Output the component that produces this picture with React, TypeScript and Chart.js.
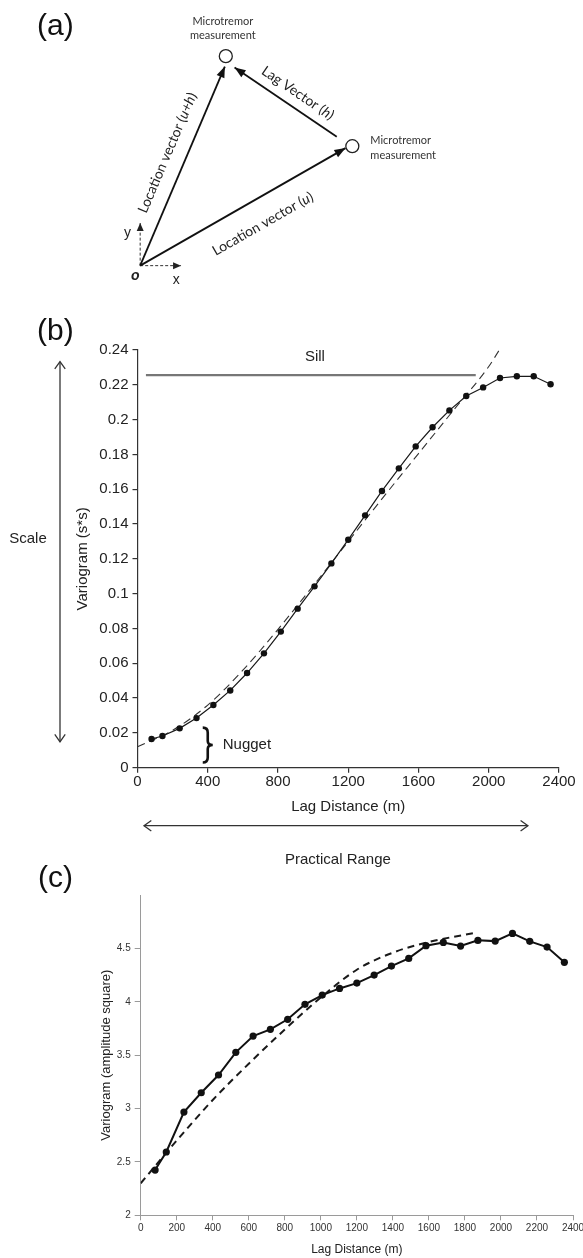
import React, { useEffect, useRef } from "react";
import { Chart, registerables } from "chart.js";

Chart.register(...registerables);

const SANS = "'Liberation Sans', Arial, Helvetica, sans-serif";
const CAL = "Lato, 'Open Sans', sans-serif";
Chart.defaults.font.family = SANS;

// ---------------- Panel (a): diagram (origin o at 0,0) ----------------
const stationPoints = [
  [88, 221],
  [218, 126],
];
const vectorUH = [
  [0, 0],
  [87, 210],
];
const vectorU = [
  [0, 0],
  [211, 124],
];
const vectorH = [
  [202, 136],
  [97, 209],
];
const axisY = [
  [0, 0],
  [0, 45],
];
const axisX = [
  [0, 0],
  [42, 0],
];

// ---------------- Panel (b) ----------------
const lagDistance = [80, 142, 240, 336, 432, 528, 624, 720, 816, 912, 1008, 1104, 1200, 1296, 1392, 1488, 1584, 1680, 1776, 1872, 1968, 2064, 2160, 2256, 2352];
const variogramB = [0.0165, 0.0182, 0.0226, 0.0285, 0.036, 0.0444, 0.0544, 0.0657, 0.0782, 0.0914, 0.1042, 0.1174, 0.131, 0.145, 0.159, 0.172, 0.1846, 0.1956, 0.2053, 0.2136, 0.2185, 0.2239, 0.2249, 0.2249, 0.2203];
const modelDistanceB = [0, 200, 400, 600, 800, 1000, 1200, 1400, 1600, 1800, 2000, 2060];
const modelVariogramB = [0.012, 0.0215, 0.036, 0.056, 0.0795, 0.1045, 0.13, 0.1555, 0.1805, 0.2055, 0.2305, 0.24];
const sillLevel = 0.2256;
const sillExtent = [48, 1926];
const sillLabelAt = [1010, 0.2362];
const nuggetAt = 400;
const nuggetSpan = [0.003, 0.023];
const scaleSpan = [0.0149, 0.2333];
const practicalRange = [37, 2223];
const xTicksB = [0, 400, 800, 1200, 1600, 2000, 2400];
const yTicksB = [0, 0.02, 0.04, 0.06, 0.08, 0.1, 0.12, 0.14, 0.16, 0.18, 0.2, 0.22, 0.24];

// ---------------- Panel (c) ----------------
const variogramC = [2.424, 2.593, 2.967, 3.148, 3.314, 3.526, 3.679, 3.742, 3.836, 3.976, 4.063, 4.125, 4.175, 4.25, 4.334, 4.406, 4.525, 4.556, 4.522, 4.575, 4.568, 4.64, 4.566, 4.512, 4.369];
const modelDistanceC = [0, 200, 400, 600, 800, 1000, 1200, 1400, 1600, 1870];
const modelVariogramC = [2.3, 2.7, 3.08, 3.42, 3.74, 4.04, 4.3, 4.46, 4.56, 4.65];
const xTicksC = [0, 200, 400, 600, 800, 1000, 1200, 1400, 1600, 1800, 2000, 2200, 2400];
const yTicksC = [2, 2.5, 3, 3.5, 4, 4.5];

const toXY = (xs: number[], ys: number[]) => xs.map((x, i) => ({ x, y: ys[i] }));
const pairs = (arr: number[][]) => arr.map(([x, y]) => ({ x, y }));

function filledHead(ctx: CanvasRenderingContext2D, x0: number, y0: number, x1: number, y1: number, len: number, half: number) {
  const a = Math.atan2(y1 - y0, x1 - x0);
  const bx = x1 - len * Math.cos(a);
  const by = y1 - len * Math.sin(a);
  ctx.beginPath();
  ctx.moveTo(x1, y1);
  ctx.lineTo(bx + half * Math.sin(a), by - half * Math.cos(a));
  ctx.lineTo(bx - half * Math.sin(a), by + half * Math.cos(a));
  ctx.closePath();
  ctx.fill();
}

function openHead(ctx: CanvasRenderingContext2D, x: number, y: number, angle: number, len: number) {
  const spread = 0.62;
  ctx.beginPath();
  ctx.moveTo(x - len * Math.cos(angle - spread), y - len * Math.sin(angle - spread));
  ctx.lineTo(x, y);
  ctx.lineTo(x - len * Math.cos(angle + spread), y - len * Math.sin(angle + spread));
  ctx.stroke();
}

function drawRich(ctx: CanvasRenderingContext2D, parts: { t: string; i?: boolean }[], cx: number, cy: number, angle: number, size: number) {
  ctx.save();
  ctx.translate(cx, cy);
  ctx.rotate(angle);
  const fonts = parts.map((p) => `${p.i ? "italic " : ""}${size}px ${CAL}`);
  let total = 0;
  const widths = parts.map((p, k) => {
    ctx.font = fonts[k];
    const w = ctx.measureText(p.t).width;
    total += w;
    return w;
  });
  let x = -total / 2;
  ctx.textAlign = "left";
  ctx.textBaseline = "middle";
  parts.forEach((p, k) => {
    ctx.font = fonts[k];
    ctx.fillText(p.t, x, 0);
    x += widths[k];
  });
  ctx.restore();
}

const diagramPlugin = {
  id: "diagram",
  afterDatasetsDraw(chart: any) {
    const ctx: CanvasRenderingContext2D = chart.ctx;
    const xs = chart.scales.x;
    const ys = chart.scales.y;
    const P = (x: number, y: number) => [xs.getPixelForValue(x), ys.getPixelForValue(y)];
    ctx.save();
    ctx.fillStyle = "#111";
    // arrow heads
    [1, 2, 3].forEach((i) => {
      const pts = chart.getDatasetMeta(i).data;
      const a = pts[0], b = pts[pts.length - 1];
      filledHead(ctx, a.x, a.y, b.x, b.y, 11, 4.2);
    });
    ctx.fillStyle = "#222";
    [4, 5].forEach((i) => {
      const pts = chart.getDatasetMeta(i).data;
      const a = pts[0], b = pts[pts.length - 1];
      filledHead(ctx, a.x, a.y, b.x, b.y, 8, 3.5);
    });
    // panel letter
    ctx.fillStyle = "#111";
    ctx.font = `30px ${SANS}`;
    ctx.textAlign = "left";
    ctx.textBaseline = "alphabetic";
    ctx.fillText("(a)", 37, 35);
    // station labels
    ctx.fillStyle = "#333";
    ctx.font = `11px ${CAL}`;
    ctx.textBaseline = "middle";
    ctx.textAlign = "center";
    const [t1x, t1y] = P(stationPoints[0][0], stationPoints[0][1]);
    ctx.fillText("Microtremor", t1x - 3, t1y - 35);
    ctx.fillText("measurement", t1x - 3, t1y - 21);
    const [t2x, t2y] = P(stationPoints[1][0], stationPoints[1][1]);
    ctx.textAlign = "left";
    ctx.fillText("Microtremor", t2x + 18, t2y - 6);
    ctx.fillText("measurement", t2x + 18, t2y + 9);
    // axis letters
    ctx.fillStyle = "#222";
    ctx.font = `14px ${SANS}`;
    ctx.textAlign = "center";
    const [yx, yy] = P(-13, 34);
    ctx.fillText("y", yx, yy);
    const [xx, xy] = P(37, -15);
    ctx.fillText("x", xx, xy);
    ctx.font = `italic bold 14px ${SANS}`;
    const [ox, oy] = P(-5, -11);
    ctx.fillText("o", ox, oy);
    // vector labels
    ctx.fillStyle = "#222";
    const ang = (v: number[][]) => {
      const [ax, ay] = P(v[0][0], v[0][1]);
      const [bx, by] = P(v[1][0], v[1][1]);
      return Math.atan2(by - ay, bx - ax);
    };
    const [l1x, l1y] = P(28, 119);
    drawRich(ctx, [{ t: "Location vector (" }, { t: "u+h", i: true }, { t: ")" }], l1x, l1y, ang(vectorUH), 14);
    const [l2x, l2y] = P(126, 44);
    drawRich(ctx, [{ t: "Location vector (" }, { t: "u", i: true }, { t: ")" }], l2x, l2y, ang(vectorU), 14);
    const [l3x, l3y] = P(162, 182);
    drawRich(ctx, [{ t: "Lag Vector (" }, { t: "h", i: true }, { t: ")" }], l3x, l3y, ang(vectorH) + Math.PI, 14);
    ctx.restore();
  },
};

const panelBPlugin = {
  id: "panelB",
  afterDraw(chart: any) {
    const ctx: CanvasRenderingContext2D = chart.ctx;
    const xs = chart.scales.x;
    const ys = chart.scales.y;
    ctx.save();
    ctx.fillStyle = "#111";
    ctx.font = `30px ${SANS}`;
    ctx.textAlign = "left";
    ctx.textBaseline = "alphabetic";
    ctx.fillText("(b)", 37, 50);

    ctx.font = `15px ${SANS}`;
    ctx.fillStyle = "#222";
    ctx.textAlign = "center";
    ctx.textBaseline = "middle";
    ctx.fillText("Sill", xs.getPixelForValue(sillLabelAt[0]), ys.getPixelForValue(sillLabelAt[1]));

    // Scale arrow
    ctx.strokeStyle = "#333";
    ctx.lineWidth = 1.3;
    const sx = 60;
    const sTop = ys.getPixelForValue(scaleSpan[1]);
    const sBot = ys.getPixelForValue(scaleSpan[0]);
    ctx.beginPath();
    ctx.moveTo(sx, sTop);
    ctx.lineTo(sx, sBot);
    ctx.stroke();
    openHead(ctx, sx, sTop, -Math.PI / 2, 9);
    openHead(ctx, sx, sBot, Math.PI / 2, 9);
    ctx.fillText("Scale", 28, 249);

    // Nugget brace
    const bx = xs.getPixelForValue(nuggetAt);
    const b1 = ys.getPixelForValue(nuggetSpan[1]);
    const b2 = ys.getPixelForValue(nuggetSpan[0]);
    const m = (b1 + b2) / 2;
    const w = 5;
    ctx.strokeStyle = "#111";
    ctx.lineWidth = 2.6;
    ctx.beginPath();
    ctx.moveTo(bx - w, b1);
    ctx.quadraticCurveTo(bx, b1, bx, b1 + 5);
    ctx.lineTo(bx, m - 4);
    ctx.quadraticCurveTo(bx, m, bx + w, m);
    ctx.quadraticCurveTo(bx, m, bx, m + 4);
    ctx.lineTo(bx, b2 - 5);
    ctx.quadraticCurveTo(bx, b2, bx - w, b2);
    ctx.stroke();
    ctx.textAlign = "left";
    ctx.fillText("Nugget", bx + 15, m);

    // Practical range arrow
    const ry = 535.7;
    const r1 = xs.getPixelForValue(practicalRange[0]);
    const r2 = xs.getPixelForValue(practicalRange[1]);
    ctx.strokeStyle = "#333";
    ctx.lineWidth = 1.3;
    ctx.beginPath();
    ctx.moveTo(r1, ry);
    ctx.lineTo(r2, ry);
    ctx.stroke();
    openHead(ctx, r1, ry, Math.PI, 9);
    openHead(ctx, r2, ry, 0, 9);
    ctx.textAlign = "center";
    ctx.fillText("Practical Range", (r1 + r2) / 2 + 2, 570);
    ctx.restore();
  },
};

const panelCPlugin = {
  id: "panelC",
  afterDraw(chart: any) {
    const ctx: CanvasRenderingContext2D = chart.ctx;
    ctx.save();
    ctx.fillStyle = "#111";
    ctx.font = `30px ${SANS}`;
    ctx.textAlign = "left";
    ctx.textBaseline = "alphabetic";
    ctx.fillText("(c)", 38, 32);
    ctx.restore();
  },
};

const fmt2 = (v: any) => String(Number(Number(v).toFixed(2)));

function buildA(canvas: HTMLCanvasElement) {
  const seg = (pts: number[][], color: string, width: number, dash: number[] = []) => ({
    data: pairs(pts),
    showLine: true,
    borderColor: color,
    borderWidth: width,
    borderDash: dash,
    pointRadius: 0,
    fill: false,
  });
  return new Chart(canvas, {
    type: "scatter",
    data: {
      datasets: [
        {
          data: pairs(stationPoints),
          pointRadius: 6.5,
          pointBackgroundColor: "#fff",
          pointBorderColor: "#222",
          pointBorderWidth: 1.3,
          showLine: false,
        },
        seg(vectorUH, "#111", 1.8),
        seg(vectorU, "#111", 1.8),
        seg(vectorH, "#111", 1.8),
        seg(axisY, "#333", 1, [3, 2]),
        seg(axisX, "#333", 1, [3, 2]),
      ] as any,
    },
    options: {
      responsive: false,
      animation: false,
      devicePixelRatio: 1,
      events: [],
      layout: { padding: 0 },
      plugins: { legend: { display: false }, tooltip: { enabled: false } },
      scales: {
        x: { type: "linear", display: false, min: -136, max: 447 },
        y: { type: "linear", display: false, min: -28, max: 272 },
      },
    } as any,
    plugins: [diagramPlugin],
  });
}

function buildB(canvas: HTMLCanvasElement) {
  return new Chart(canvas, {
    type: "scatter",
    data: {
      datasets: [
        {
          data: toXY(lagDistance, variogramB),
          showLine: true,
          borderColor: "#1a1a1a",
          borderWidth: 1.2,
          pointRadius: 3.2,
          pointBackgroundColor: "#111",
          pointBorderColor: "#111",
          pointBorderWidth: 0,
        },
        {
          data: toXY(modelDistanceB, modelVariogramB),
          showLine: true,
          borderColor: "#333",
          borderWidth: 1.1,
          borderDash: [8, 5],
          cubicInterpolationMode: "monotone",
          pointRadius: 0,
        },
        {
          data: sillExtent.map((x) => ({ x, y: sillLevel })),
          showLine: true,
          borderColor: "#777",
          borderWidth: 2.2,
          pointRadius: 0,
        },
      ] as any,
    },
    options: {
      responsive: false,
      animation: false,
      devicePixelRatio: 1,
      events: [],
      layout: { padding: { left: 74, right: 24, top: 60, bottom: 0 } },
      plugins: { legend: { display: false }, tooltip: { enabled: false } },
      scales: {
        x: {
          type: "linear",
          min: 0,
          max: 2400,
          afterBuildTicks: (s: any) => {
            s.ticks = xTicksB.map((value) => ({ value }));
          },
          afterFit: (s: any) => {
            s.height = 112.3;
            s.paddingLeft = 0;
            s.paddingRight = 0;
          },
          grid: { display: true, drawOnChartArea: false, drawTicks: true, tickLength: 5, color: "#333", lineWidth: 1.2 },
          border: { display: true, color: "#333", width: 1.2 },
          ticks: { font: { size: 15 }, color: "#222", padding: 0, maxRotation: 0, callback: (v: any) => String(v) },
          title: { display: true, text: "Lag Distance (m)", font: { size: 15 }, color: "#222", padding: { top: 0, bottom: 64 } },
        },
        y: {
          type: "linear",
          min: 0,
          max: 0.24,
          afterBuildTicks: (s: any) => {
            s.ticks = yTicksB.map((value) => ({ value }));
          },
          afterFit: (s: any) => {
            s.width = 63.5;
          },
          grid: { display: true, drawOnChartArea: false, drawTicks: true, tickLength: 5, color: "#333", lineWidth: 1.2 },
          border: { display: true, color: "#333", width: 1.2 },
          ticks: { font: { size: 15 }, color: "#222", padding: 4, callback: fmt2 },
          title: { display: true, text: "Variogram (s*s)", font: { size: 15 }, color: "#222", padding: { top: 0, bottom: 0 } },
        },
      },
    } as any,
    plugins: [panelBPlugin],
  });
}

function buildC(canvas: HTMLCanvasElement) {
  return new Chart(canvas, {
    type: "scatter",
    data: {
      datasets: [
        {
          data: toXY(lagDistance, variogramC),
          showLine: true,
          borderColor: "#111",
          borderWidth: 2,
          pointRadius: 3.6,
          pointBackgroundColor: "#111",
          pointBorderColor: "#111",
          pointBorderWidth: 0,
        },
        {
          data: toXY(modelDistanceC, modelVariogramC),
          showLine: true,
          borderColor: "#1a1a1a",
          borderWidth: 2,
          borderDash: [7, 5],
          cubicInterpolationMode: "monotone",
          pointRadius: 0,
        },
      ] as any,
    },
    options: {
      responsive: false,
      animation: false,
      devicePixelRatio: 1,
      events: [],
      layout: { padding: { left: 98.2, right: 10, top: 40, bottom: 0 } },
      plugins: { legend: { display: false }, tooltip: { enabled: false } },
      scales: {
        x: {
          type: "linear",
          min: 0,
          max: 2400,
          afterBuildTicks: (s: any) => {
            s.ticks = xTicksC.map((value) => ({ value }));
          },
          afterFit: (s: any) => {
            s.height = 42.7;
            s.paddingLeft = 0;
            s.paddingRight = 0;
          },
          grid: { display: true, drawOnChartArea: false, drawTicks: true, tickLength: 5, color: "#9a9a9a", lineWidth: 1 },
          border: { display: true, color: "#9a9a9a", width: 1 },
          ticks: { font: { size: 10 }, color: "#333", padding: 2, maxRotation: 0, autoSkip: false, callback: (v: any) => String(v) },
          title: { display: true, text: "Lag Distance (m)", font: { size: 12 }, color: "#222", padding: { top: 0, bottom: 0.8 } },
        },
        y: {
          type: "linear",
          min: 2,
          max: 5,
          afterBuildTicks: (s: any) => {
            s.ticks = yTicksC.map((value) => ({ value }));
          },
          afterFit: (s: any) => {
            s.width = 42.5;
          },
          grid: { display: true, drawOnChartArea: false, drawTicks: true, tickLength: 6, color: "#9a9a9a", lineWidth: 1 },
          border: { display: true, color: "#9a9a9a", width: 1 },
          ticks: { font: { size: 10 }, color: "#333", padding: 4, callback: (v: any) => String(v) },
          title: { display: true, text: "Variogram (amplitude square)", font: { size: 13 }, color: "#222", padding: { top: 0, bottom: 0 } },
        },
      },
    } as any,
    plugins: [panelCPlugin],
  });
}

function ChartCanvas({ top, height, build }: { top: number; height: number; build: (c: HTMLCanvasElement) => Chart }) {
  const ref = useRef<HTMLCanvasElement>(null);
  useEffect(() => {
    const chart = build(ref.current as HTMLCanvasElement);
    return () => chart.destroy();
  }, [build]);
  return (
    <canvas
      ref={ref}
      width={583}
      height={height}
      style={{ position: "absolute", left: 0, top, width: 583, height, display: "block" }}
    />
  );
}

export default function App() {
  return (
    <div style={{ position: "absolute", left: 0, top: 0, width: 583, height: 1258, background: "#fff", overflow: "hidden" }}>
      <ChartCanvas top={0} height={300} build={buildA} />
      <ChartCanvas top={290} height={590} build={buildB} />
      <ChartCanvas top={855} height={403} build={buildC} />
    </div>
  );
}
